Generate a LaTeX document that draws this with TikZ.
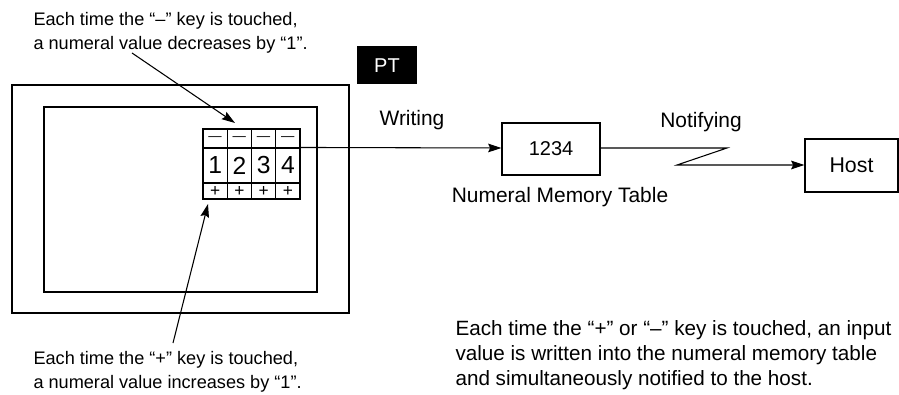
\documentclass[tikz,border=0pt]{standalone}
\usepackage{fontspec}
\setmainfont{Liberation Sans}
\usetikzlibrary{arrows.meta}
\begin{document}
\begin{tikzpicture}[x=0.75pt,y=-0.75pt,
  line width=0.8pt,
  txt/.style={inner sep=0pt,font=\fontsize{13.6pt}{18pt}\selectfont,align=left},
  lbl/.style={inner sep=0pt,font=\fontsize{15.7pt}{18pt}\selectfont},
  cell/.style={draw,line width=0.8pt,inner sep=0pt,minimum width=24.25*0.75pt},
  box/.style={draw,line width=0.8pt,inner sep=0pt},
  arr/.style={-{Stealth[length=10pt,width=6.5pt,inset=1.5pt]}}]
\useasboundingbox (0,0) rectangle (899,395);
% panels
\node[box,minimum width=337*0.75pt,minimum height=228*0.75pt] (outer) at (180.5,199) {};
\node[box,minimum width=273*0.75pt,minimum height=185*0.75pt] (inner) at (180.5,199.5) {};
% PT label
\node[fill=black,text=white,inner sep=0pt,minimum width=60*0.75pt,minimum height=38*0.75pt,font=\fontsize{15pt}{16pt}\selectfont] (pt) at (387,65.5) {PT};
% key table
\foreach \i/\d in {1/1,2/2,3/3,4/4}{
  \node[cell,minimum height=19*0.75pt,font=\fontsize{10pt}{12pt}\selectfont] (m\i) at (203+24.25*\i-12.125,138.5) {—};
  \node[cell,minimum height=35*0.75pt,font=\fontsize{18.5pt}{20pt}\selectfont] (n\i) at (203+24.25*\i-12.125,165.5) {\d};
  \node[cell,minimum height=16*0.75pt,font=\fontsize{13pt}{14pt}\selectfont] (p\i) at (203+24.25*\i-12.125,191) {+};
}
% memory table
\node[box,minimum width=98*0.75pt,minimum height=52*0.75pt,font=\fontsize{15pt}{16pt}\selectfont] (mem) at (551,149) {1234};
\node[box,minimum width=93*0.75pt,minimum height=53*0.75pt,font=\fontsize{16pt}{17pt}\selectfont] (host) at (851.5,165.5) {Host};
% labels
\node[lbl,anchor=base] (wr) at (412,126) {Writing};
\node[lbl,anchor=base] (nt) at (701,128) {Notifying};
\node[lbl,anchor=base] (nmt) at (560,203) {Numeral Memory Table};
\node[txt,anchor=base west] (t1) at (33,50) {Each time the “–” key is touched,\\a numeral value decreases by “1”.};
\node[txt,anchor=base west] (t2) at (33,388) {Each time the “+” key is touched,\\a numeral value increases by “1”.};
\node[txt,anchor=base west,font=\fontsize{15.5pt}{18.4pt}\selectfont] (t3) at (455,385) {Each time the “+” or “–” key is touched, an input\\value is written into the numeral memory table\\and simultaneously notified to the host.};
% connectors
\coordinate (wa) at (300,148);
\draw[arr] (n4.north east) -- (mem.west |- wa);
\coordinate (z1) at (727,148);
\coordinate (z2) at (677,165);
\draw[arr] (mem.east |- z1) -- (z1) -- (z2) -- (host.west |- z2);
\coordinate (a1s) at (132,53);
\coordinate (a1e) at (235,123);
\draw[arr] (a1s) -- (a1e);
\coordinate (a2s) at (173,343);
\coordinate (a2e) at (208,204);
\draw[arr] (a2s) -- (a2e);
\end{tikzpicture}
\end{document}
